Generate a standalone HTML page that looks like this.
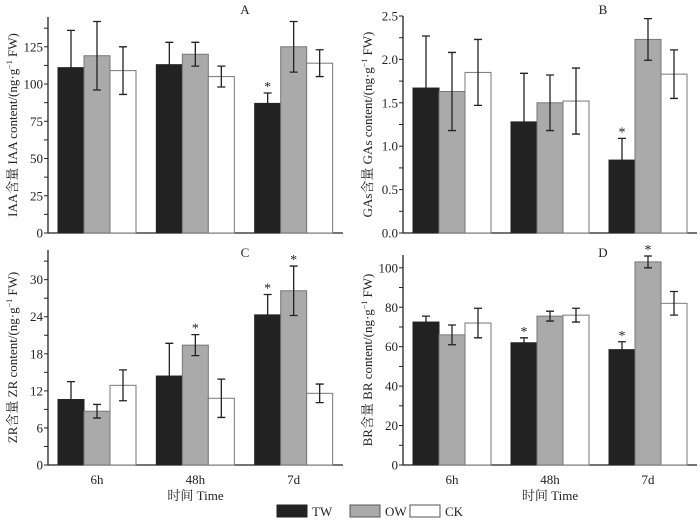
<!DOCTYPE html>
<html><head><meta charset="utf-8"><style>
body{margin:0;background:#fff}
svg text{font-family:"Liberation Serif","Noto Serif CJK SC",serif;fill:#222}
</style></head><body>
<svg id="c" width="700" height="522"></svg>
<script>
const categories=["6h","48h","7d"];
const seriesNames=["TW","OW","CK"];
const iaaTW=[111,113,87], iaaOW=[119,120,125], iaaCK=[109,105,114];
const iaaTWe=[25,15,7], iaaOWe=[23,8,17], iaaCKe=[16,7,9];
const gaTW=[1.67,1.28,0.84], gaOW=[1.63,1.5,2.23], gaCK=[1.85,1.52,1.83];
const gaTWe=[0.6,0.56,0.25], gaOWe=[0.45,0.32,0.24], gaCKe=[0.38,0.38,0.28];
const zrTW=[10.6,14.4,24.3], zrOW=[8.7,19.4,28.2], zrCK=[12.9,10.8,11.6];
const zrTWe=[2.9,5.3,3.3], zrOWe=[1.1,1.7,4], zrCKe=[2.5,3.1,1.5];
const brTW=[72.5,62,58.5], brOW=[66,75.5,103], brCK=[72,76,82];
const brTWe=[3,2.5,4], brOWe=[5,2.5,3], brCKe=[7.5,3.5,6];
const iaaTicks=[0,25,50,75,100,125], gaTicks=[0,0.5,1.0,1.5,2.0,2.5];
const zrTicks=[0,6,12,18,24,30], brTicks=[0,20,40,60,80,100];
const iaaStars=[[0,2]], gaStars=[[0,2]], zrStars=[[1,1],[0,2],[1,2]], brStars=[[0,1],[0,2],[1,2]];
const fills=["#222","#aaa","#fff"];
const NS="http://www.w3.org/2000/svg";
const svg=document.getElementById('c');
function mk(tag,at,parent){const e=document.createElementNS(NS,tag);for(const k in at)e.setAttribute(k,at[k]);(parent||svg).appendChild(e);return e;}
function panel(o){
  const g=mk('g',{});
  
  
  const x0=o.x0,x1=o.x1,yb=o.yb,yt=o.yt;
  const ys=v=>yb-(v-o.min)/(o.max-o.min)*(yb-yt);
  const gw=(x1-x0)/3;
  const xs=(gi,si)=>x0+gi*gw+10+si*26;
  // axes
  const ya=mk('line',{x1:x0,y1:yt,x2:x0,y2:yb,stroke:'#222','stroke-width':1.3},g);
  
  const xa=mk('line',{x1:x0,y1:yb,x2:x1,y2:yb,stroke:'#222','stroke-width':1.3},g);
  
  const step=o.ticks[1]-o.ticks[0];
  for(let v=o.min;v<=o.max+1e-9;v+=step/2){
    const y=ys(v);
    mk('line',{x1:x0-4,y1:y,x2:x0,y2:y,stroke:'#222','stroke-width':1},g);
  }
  o.ticks.forEach((t,i)=>{
    const tx=mk('text',{x:x0-5,y:ys(t)+4.5,'text-anchor':'end','font-size':13},g);
    tx.textContent=o.tickLabels[i];
    
  });
  categories.forEach((c,gi)=>{
    const cx=x0+gi*gw+10+39;
    mk('line',{x1:cx,y1:yb,x2:cx,y2:yb-5,stroke:'#222','stroke-width':1},g);
    if(o.xlabels){const t=mk('text',{x:cx,y:yb+19,'text-anchor':'middle','font-size':13},g);t.textContent=c;
      }
  });
  o.vals.forEach((arr,si)=>{
    arr.forEach((v,gi)=>{
      const x=xs(gi,si),y=ys(v);
      const r=mk('rect',{x:x,y:y,width:26,height:yb-y,fill:fills[si],stroke:si==0?'#222':'#777','stroke-width':1},g);
      
      
      const e=o.errs[si][gi],cx=x+13;
      const eb=mk('path',{d:`M${cx},${ys(v+e)}V${ys(v-e)}M${cx-4},${ys(v+e)}h8M${cx-4},${ys(v-e)}h8`,stroke:'#222','stroke-width':1.3,fill:'none'},g);
      
    });
  });
  o.stars.forEach(([si,gi])=>{
    const v=o.vals[si][gi]+o.errs[si][gi];
    const t=mk('text',{x:xs(gi,si)+13,y:ys(v)-2,'text-anchor':'middle','font-size':14},g);
    t.textContent='*';
  });
  const L=mk('text',{x:o.lx,y:o.ly,'text-anchor':'middle','font-size':13},g);L.textContent=o.letter;
  
  const cy=(yt+yb)/2;
  const T=mk('text',{x:o.tx,y:cy,'text-anchor':'middle','font-size':13,transform:`rotate(-90 ${o.tx} ${cy})`},g);
  T.innerHTML=o.title;
  if(o.xlabels){const t=mk('text',{x:(x0+x1)/2,y:yb+35,'text-anchor':'middle','font-size':13},g);t.textContent='时间 Time';
    }
}
panel({name:'panel-a-iaa',x0:48,x1:343,yb:233,yt:17,min:0,max:145,ticks:iaaTicks,tickLabels:["0","25","50","75","100","125"],
  vals:[iaaTW,iaaOW,iaaCK],errs:[iaaTWe,iaaOWe,iaaCKe],stars:iaaStars,letter:'A',lx:245,ly:14,tx:17,
  title:'IAA含量 IAA content/(ng·g<tspan dy="-5" font-size="8">−1</tspan><tspan dy="5"> FW)</tspan>'});
panel({name:'panel-b-gas',x0:403,x1:697,yb:233,yt:16,min:0,max:2.5,ticks:gaTicks,tickLabels:["0.0","0.5","1.0","1.5","2.0","2.5"],
  vals:[gaTW,gaOW,gaCK],errs:[gaTWe,gaOWe,gaCKe],stars:gaStars,letter:'B',lx:603,ly:14,tx:372,
  title:'GAs含量 GAs content/(ng·g<tspan dy="-5" font-size="8">−1</tspan><tspan dy="5"> FW)</tspan>'});
panel({name:'panel-c-zr',x0:48,x1:343,yb:465,yt:250,min:0,max:34.8,ticks:zrTicks,tickLabels:["0","6","12","18","24","30"],
  vals:[zrTW,zrOW,zrCK],errs:[zrTWe,zrOWe,zrCKe],stars:zrStars,letter:'C',lx:245,ly:257,tx:17,xlabels:true,
  title:'ZR含量 ZR content/(ng·g<tspan dy="-5" font-size="8">−1</tspan><tspan dy="5"> FW)</tspan>'});
panel({name:'panel-d-br',x0:403,x1:697,yb:465,yt:255,min:0,max:106.5,ticks:brTicks,tickLabels:["0","20","40","60","80","100"],
  vals:[brTW,brOW,brCK],errs:[brTWe,brOWe,brCKe],stars:brStars,letter:'D',lx:603,ly:257,tx:372,xlabels:true,
  title:'BR含量 BR content/(ng·g<tspan dy="-5" font-size="8">−1</tspan><tspan dy="5"> FW)</tspan>'});
const lg=mk('g',{});


const lx=[277,350,410];
seriesNames.forEach((n,i)=>{
  const r=mk('rect',{x:lx[i],y:505,width:30,height:12,fill:fills[i],stroke:i==0?'#222':'#555','stroke-width':1},lg);
  
  const t=mk('text',{x:lx[i]+35,y:516,'font-size':13},lg);t.textContent=n;
  
});
</script>
</body></html>
